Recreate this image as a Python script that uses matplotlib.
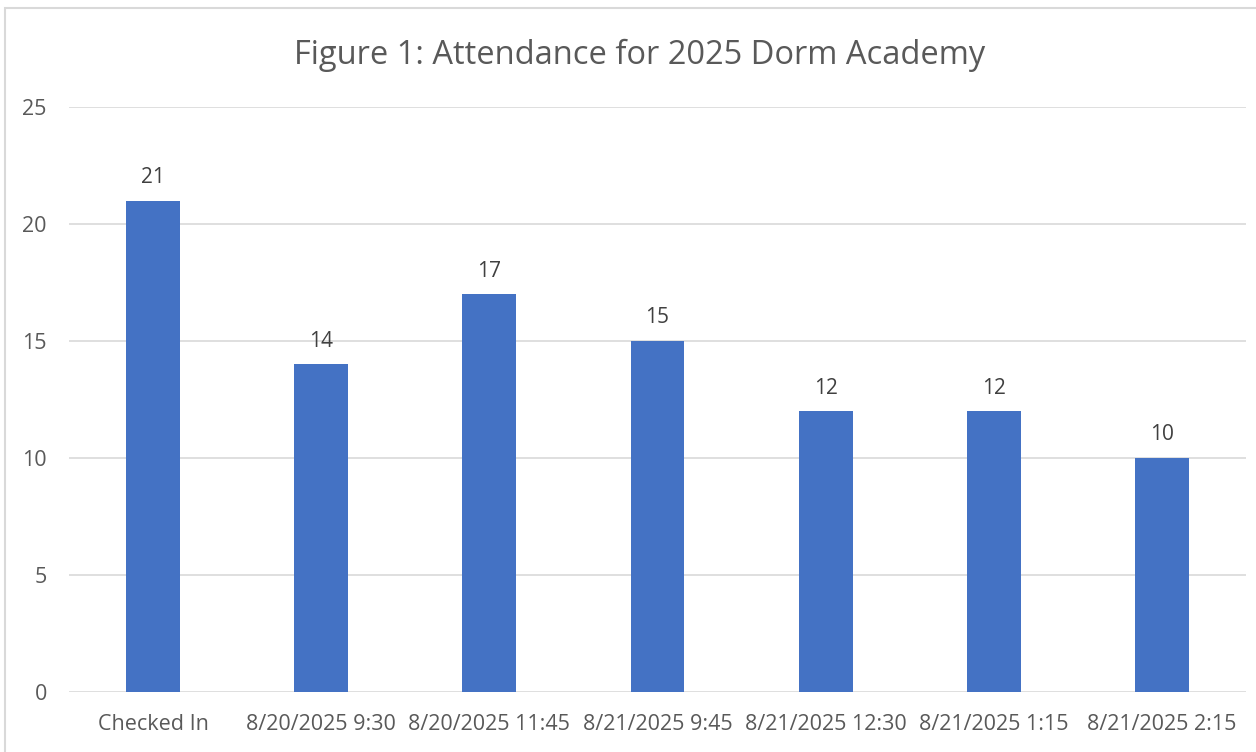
import matplotlib.pyplot as plt
from matplotlib.patches import Rectangle

# 数据
categories = ['Checked In', '8/20/2025 9:30', '8/20/2025 11:45', '8/21/2025 9:45',
              '8/21/2025 12:30', '8/21/2025 1:15', '8/21/2025 2:15']
attendance = [21, 14, 17, 15, 12, 12, 10]
yticks = [0, 5, 10, 15, 20, 25]

plt.rcParams['font.family'] = ['Open Sans', 'DejaVu Sans']

fig = plt.figure(figsize=(12.56, 7.52), dpi=100)
ax = fig.add_axes([69 / 1256, 60 / 752, 1177 / 1256, 585 / 752])

x = range(len(categories))
bars = ax.bar(x, attendance, width=0.32, color='#4472C4', zorder=3)

# 数据标签
for b, v in zip(bars, attendance):
    ax.annotate(str(v), (b.get_x() + b.get_width() / 2, v), xytext=(0, 9),
                textcoords='offset points', ha='center', va='bottom',
                fontsize=15, color='#404040')

ax.set_xlim(-0.5, len(categories) - 0.5)
ax.set_ylim(0, 25)
ax.set_yticks(yticks)
ax.set_xticks(list(x))
ax.set_xticklabels(categories)
ax.tick_params(axis='both', length=0, labelsize=15.5, colors='#595959')
ax.tick_params(axis='y', pad=16)
ax.tick_params(axis='x', pad=16)
ax.grid(axis='y', color='#d9d9d9', linewidth=1.2, zorder=0)
for s in ax.spines.values():
    s.set_visible(False)

fig.text(640 / 1256, 1 - 55 / 752, 'Figure 1: Attendance for 2025 Dorm Academy',
         ha='center', va='center', fontsize=23.5, color='#595959')

# 图表边框
fig.patches.append(Rectangle((5 / 1256, -0.05), 1.1, 1 - 8 / 752 + 0.05,
                             transform=fig.transFigure, fill=False,
                             edgecolor='#d9d9d9', linewidth=1.5))

fig.savefig('out.png', dpi=100)
